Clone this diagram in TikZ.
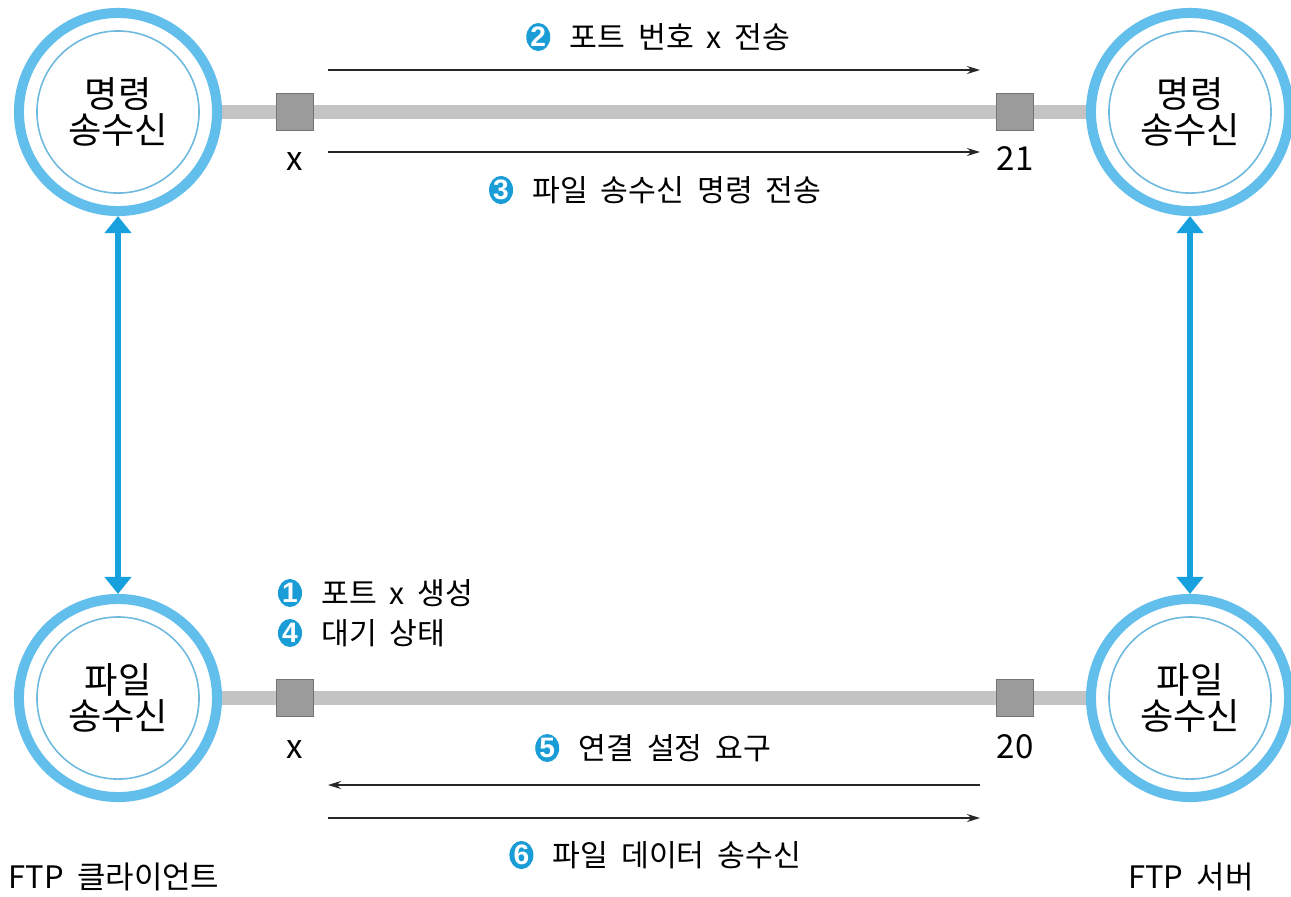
\documentclass[tikz,border=0pt]{standalone}
\usepackage{fontspec}
\setmainfont{Noto Sans CJK KR}[WordSpace=1.9]
\newfontfamily\numfont{Liberation Sans}
\usetikzlibrary{arrows.meta,positioning,shadows,backgrounds,shapes.geometric}

\definecolor{ringblue}{RGB}{98,190,234}
\definecolor{innerblue}{RGB}{110,185,222}
\definecolor{linkblue}{RGB}{22,160,222}
\definecolor{numblue}{RGB}{26,156,214}
\definecolor{bargray}{RGB}{196,196,196}
\definecolor{portgray}{RGB}{155,155,155}

\tikzset{
  ring/.style={circle, draw=ringblue, line width=0.1cm, fill=white,
    minimum size=1.98cm, align=center, font=\fontsize{10.3}{10.2}\selectfont,
    drop shadow={opacity=0.15, shadow xshift=0.02cm, shadow yshift=-0.03cm},
    path picture={\draw[innerblue, line width=0.45pt]
      (path picture bounding box.center) circle (0.81cm);}},
  port/.style={rectangle, draw=black!55, fill=portgray, line width=0.5pt,
    minimum size=0.37cm, inner sep=0pt},
  portlbl/.style={font=\fontsize{9.4}{10}\selectfont, inner sep=0pt,
    text height=7pt, text depth=0pt},
  bar/.style={bargray, line width=0.14cm},
  msg/.style={-{Stealth[length=0.13cm,width=0.08cm]}, line width=0.45pt, black!85},
  link/.style={{Triangle[length=0.17cm,width=0.26cm]}-{Triangle[length=0.17cm,width=0.26cm]},
    linkblue, line width=0.06cm},
  badge/.style={ellipse, fill=numblue, text=white, inner sep=0pt,
    minimum width=0.24cm, minimum height=0.28cm,
    font=\numfont\bfseries\fontsize{8}{8}\selectfont},
  lbl/.style={font=\fontsize{8.6}{9}\selectfont, inner sep=0pt},
  sidelbl/.style={font=\fontsize{8.8}{9}\selectfont, inner sep=0pt}
}

\begin{document}
\begin{tikzpicture}[x=0.01cm, y=-0.01cm]
\useasboundingbox (0,0) rectangle (1291,896);

% the four transceivers
\node[ring] (cmdC) at (118,112) {명령\\송수신};
\node[ring] (cmdS) at (1190,112) {명령\\송수신};
\node[ring] (fileC) at (118,698) {파일\\송수신};
\node[ring] (fileS) at (1190,698) {파일\\송수신};

% connections and ports
\begin{scope}[on background layer]
  \fill[white] (0,0) rectangle (1291,896);
  \draw[bar] (cmdC.east) -- (cmdS.west);
  \draw[bar] (fileC.east) -- (fileS.west);
\end{scope}
\node[port] (pcx) at (295,112) {};
\node[port] (p21) at (1015,112) {};
\node[port] (pfx) at (295,698) {};
\node[port] (p20) at (1015,698) {};
\node[portlbl, below=0.14cm of pcx] (lpcx) {x};
\node[portlbl, below=0.14cm of p21] (lp21) {21};
\node[portlbl, below=0.16cm of pfx] (lpfx) {x};
\node[portlbl, below=0.16cm of p20] (lp20) {20};

\draw[link] (cmdC) -- (fileC);
\draw[link] (cmdS) -- (fileS);

% messages
\coordinate (m2a) at (328,70);  \coordinate (m2b) at (980,70);
\coordinate (m3a) at (328,152); \coordinate (m3b) at (980,152);
\coordinate (m5a) at (980,785); \coordinate (m5b) at (328,785);
\coordinate (m6a) at (328,818); \coordinate (m6b) at (980,818);
\draw[msg] (m2a) -- (m2b);
\draw[msg] (m3a) -- (m3b);
\draw[msg] (m5a) -- (m5b);
\draw[msg] (m6a) -- (m6b);

\node[lbl] (t2) at (680,37) {포트 번호 x 전송};
\node[badge, left=0.18cm of t2] (b2) {2};
\node[lbl] (t3) at (677,190) {파일 송수신 명령 전송};
\node[badge, left=0.18cm of t3] (b3) {3};
\node[lbl] (t5) at (675,748) {연결 설정 요구};
\node[badge, left=0.18cm of t5] (b5) {5};
\node[lbl] (t6) at (677,855) {파일 데이터 송수신};
\node[badge, left=0.18cm of t6] (b6) {6};

\node[badge] (b1) at (290,593) {1};
\node[lbl, right=0.18cm of b1] (t1) {포트 x 생성};
\node[badge] (b4) at (290,633) {4};
\node[lbl, right=0.18cm of b4] (t4) {대기 상태};

\node[sidelbl, anchor=west] (cli) at (8,877) {FTP 클라이언트};
\node[sidelbl] (srv) at (1191,877) {FTP 서버};
\end{tikzpicture}
\end{document}
